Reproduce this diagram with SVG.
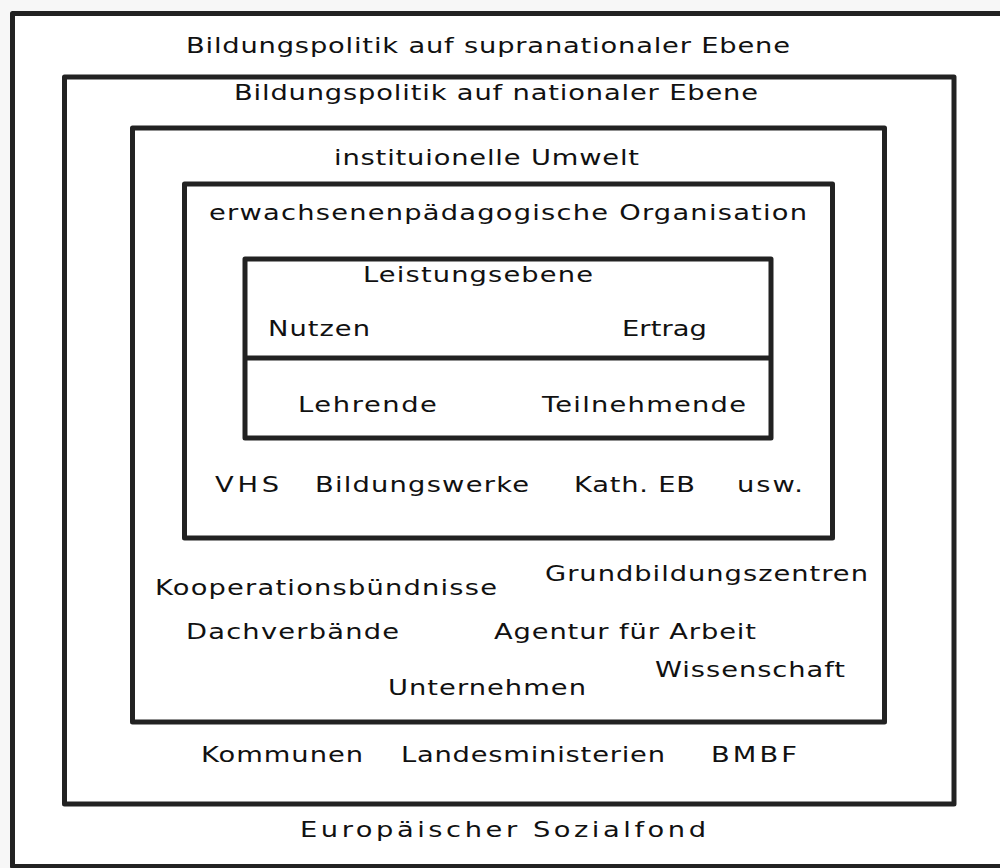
<svg xmlns="http://www.w3.org/2000/svg" width="1000" height="868" viewBox="0 0 1000 868">
  <style>
    .frame { fill: none; stroke: #222; stroke-width: 5; stroke-linejoin: round; }
    .lbl { font-family: "DejaVu Sans", "Liberation Sans", sans-serif; font-size: 21.5px; fill: #111; }
  </style>
  <!-- labels are set in a widened sans: each one is placed by translate, stretched 1.27x horizontally,
       and its textLength is the drawn width divided by that factor -->
  <rect x="0" y="0" width="1000" height="868" fill="#f7f7f7"/>
  <rect x="12.5" y="13.5" width="1000" height="853" fill="#fff"/>

  <g id="supranational">
    <rect class="frame" x="12.5" y="13.5" width="1000" height="853"/>
    <text class="lbl" transform="translate(186 53) scale(1.27 1)" textLength="475.6" lengthAdjust="spacing">Bildungspolitik auf supranationaler Ebene</text>
    <text class="lbl" transform="translate(300 837) scale(1.27 1)" textLength="319.7" lengthAdjust="spacing">Europäischer Sozialfond</text>
  </g>

  <g id="national">
    <rect class="frame" x="64.5" y="77" width="889.5" height="727"/>
    <text class="lbl" transform="translate(234 100) scale(1.27 1)" textLength="412.6" lengthAdjust="spacing">Bildungspolitik auf nationaler Ebene</text>
    <text class="lbl" transform="translate(201 762) scale(1.27 1)" textLength="127.6" lengthAdjust="spacing">Kommunen</text>
    <text class="lbl" transform="translate(401 762) scale(1.27 1)" textLength="207.9" lengthAdjust="spacing">Landesministerien</text>
    <text class="lbl" transform="translate(711 762) scale(1.27 1)" textLength="67.7" lengthAdjust="spacing">BMBF</text>
  </g>

  <g id="umwelt">
    <rect class="frame" x="132.5" y="128" width="752" height="594"/>
    <text class="lbl" transform="translate(334 165) scale(1.27 1)" textLength="240.2" lengthAdjust="spacing">instituionelle Umwelt</text>
    <text class="lbl" transform="translate(155 595) scale(1.27 1)" textLength="269.3" lengthAdjust="spacing">Kooperationsbündnisse</text>
    <text class="lbl" transform="translate(545 581) scale(1.27 1)" textLength="254.3" lengthAdjust="spacing">Grundbildungszentren</text>
    <text class="lbl" transform="translate(186 639) scale(1.27 1)" textLength="167.7" lengthAdjust="spacing">Dachverbände</text>
    <text class="lbl" transform="translate(494 639) scale(1.27 1)" textLength="206.3" lengthAdjust="spacing">Agentur für Arbeit</text>
    <text class="lbl" transform="translate(655 677) scale(1.27 1)" textLength="149.6" lengthAdjust="spacing">Wissenschaft</text>
    <text class="lbl" transform="translate(388 695) scale(1.27 1)" textLength="155.9" lengthAdjust="spacing">Unternehmen</text>
  </g>

  <g id="organisation">
    <rect class="frame" x="184.5" y="184" width="648" height="354"/>
    <text class="lbl" transform="translate(209 220) scale(1.27 1)" textLength="470.9" lengthAdjust="spacing">erwachsenenpädagogische Organisation</text>
    <text class="lbl" transform="translate(215 492) scale(1.27 1)" textLength="50.4" lengthAdjust="spacing">VHS</text>
    <text class="lbl" transform="translate(315 492) scale(1.27 1)" textLength="168.5" lengthAdjust="spacing">Bildungswerke</text>
    <text class="lbl" transform="translate(574 492) scale(1.27 1)" textLength="95.3" lengthAdjust="spacing">Kath. EB</text>
    <text class="lbl" transform="translate(737 492) scale(1.27 1)" textLength="52" lengthAdjust="spacing">usw.</text>
  </g>

  <g id="leistungsebene">
    <rect class="frame" x="245" y="259" width="526" height="179"/>
    <text class="lbl" transform="translate(363 282) scale(1.27 1)" textLength="181.1" lengthAdjust="spacing">Leistungsebene</text>
    <text class="lbl" transform="translate(268 336) scale(1.27 1)" textLength="80.3" lengthAdjust="spacing">Nutzen</text>
    <text class="lbl" transform="translate(622 336) scale(1.27 1)" textLength="66.9" lengthAdjust="spacing">Ertrag</text>
  </g>

  <g id="connectors">
    <line class="frame" x1="245" y1="358" x2="771" y2="358"/>
  </g>

  <g id="akteure">
    <text class="lbl" transform="translate(298 412) scale(1.27 1)" textLength="109.4" lengthAdjust="spacing">Lehrende</text>
    <text class="lbl" transform="translate(542 412) scale(1.27 1)" textLength="160.6" lengthAdjust="spacing">Teilnehmende</text>
  </g>
</svg>
